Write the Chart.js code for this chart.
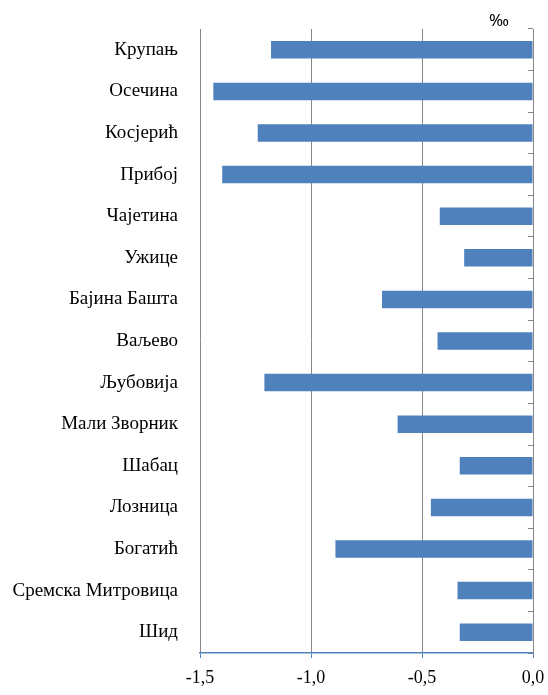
<!DOCTYPE html>
<html>
<head>
<meta charset="utf-8">
<title>Општине</title>
<script src="https://cdn.jsdelivr.net/npm/chart.js@4"></script>
<style>
    body { margin: 0; background: #fff; }
    .chart-box { width: 548px; height: 695px; }
</style>
</head>
<body>
<div class="chart-box">
    <canvas class="change-chart"></canvas>
</div>
<script>
const municipalities = ['Крупањ', 'Осечина', 'Косјерић', 'Прибој', 'Чајетина', 'Ужице', 'Бајина Башта', 'Ваљево', 'Љубовија', 'Мали Зворник', 'Шабац', 'Лозница', 'Богатић', 'Сремска Митровица', 'Шид']
const changeValues = [-1.18, -1.44, -1.24, -1.40, -0.42, -0.31, -0.68, -0.43, -1.21, -0.61, -0.33, -0.46, -0.89, -0.34, -0.33]
const unitLabel = '‰'

const chartEl = document.querySelector('.change-chart')

// unit sign above the top right corner of the plot
const unitPlugin = {
    id: 'unitLabel',
    afterDraw(chart) {
        const ctx = chart.ctx
        const area = chart.chartArea
        ctx.save()
        ctx.font = '17px "Noto Sans"'
        ctx.fillStyle = '#000'
        ctx.textAlign = 'right'
        ctx.textBaseline = 'bottom'
        ctx.fillText(unitLabel, area.right - 24, area.top + 1)
        ctx.restore()
    }
}

function formatTick(value) {
    return Number(value).toFixed(1).replace('.', ',')
}

function createChart(labels, data) {
    return new Chart(chartEl, {
        type: 'bar',
        data: {
            labels: labels,
            datasets: [{
                data: data,
                backgroundColor: '#4F81BD',
                borderWidth: 0,
                barPercentage: 0.42,
                categoryPercentage: 1,
                yAxisID: 'y'
            }]
        },
        options: {
            indexAxis: 'y',
            responsive: true,
            maintainAspectRatio: false,
            animation: false,
            layout: {
                padding: { top: 29, right: 15, bottom: 0, left: 0 }
            },
            plugins: {
                legend: { display: false },
                tooltip: { enabled: false }
            },
            scales: {
                x: {
                    min: -1.5,
                    max: 0,
                    ticks: {
                        stepSize: 0.5,
                        padding: 9,
                        color: '#000',
                        font: { family: '"Liberation Serif"', size: 18 },
                        callback: formatTick
                    },
                    grid: {
                        color: '#868686',
                        tickColor: '#4F81BD',
                        tickLength: 5
                    },
                    border: { color: '#4F81BD', width: 1.5 },
                    afterFit(scale) {
                        scale.height = 42
                        // let the layout padding decide the side margins
                        scale.paddingLeft = 0
                        scale.paddingRight = 0
                    }
                },
                y: {
                    ticks: {
                        padding: 22,
                        color: '#000',
                        font: { family: '"Liberation Serif"', size: 19 }
                    },
                    grid: { display: false, drawTicks: false },
                    border: { display: false },
                    afterFit(scale) {
                        scale.width = 200
                        scale.paddingTop = 0
                        scale.paddingBottom = 0
                    }
                },
                // category axis crossing at zero, only its line and ticks
                y2: {
                    type: 'category',
                    position: { x: 0 },
                    offset: true,
                    ticks: { display: false },
                    grid: {
                        offset: true,
                        drawOnChartArea: false,
                        tickLength: 5,
                        tickColor: '#868686'
                    },
                    border: { color: '#868686', width: 1 }
                }
            }
        },
        plugins: [unitPlugin]
    })
}

createChart(municipalities, changeValues)
</script>
</body>
</html>
